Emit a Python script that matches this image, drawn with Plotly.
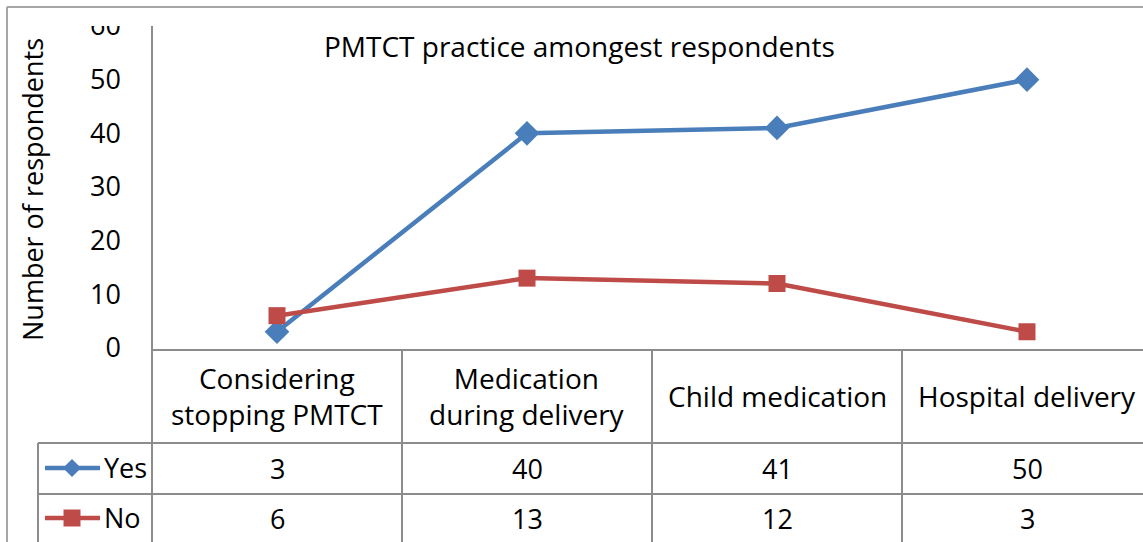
import plotly.graph_objects as go

categories = ["Considering<br>stopping PMTCT", "Medication<br>during delivery", "Child medication", "Hospital delivery"]
yes_values = [3, 40, 41, 50]
no_values = [6, 13, 12, 3]
y_ticks = [0, 10, 20, 30, 40, 50, 60]
title_text = "PMTCT practice amongest respondents"
y_title = "Number of respondents"

W, H = 1143, 542
L, T, B_PX = 152, 26, 350
PW, PH = W - L, B_PX - T
BLUE = "#4A7EBB"
RED = "#BE4B48"
GRID = "#8C8C8C"
FONT = "Open Sans"
FS = 27
FS_CAT = 28

def fx(px):
    return (px - L) / PW

def fy(py):
    return (B_PX - py) / PH

xs = list(range(len(categories)))
fig = go.Figure()
fig.add_trace(go.Scatter(x=xs, y=yes_values, mode="lines+markers", name="Yes",
                         line=dict(color=BLUE, width=4.5),
                         marker=dict(symbol="diamond", size=19, color=BLUE)))
fig.add_trace(go.Scatter(x=xs, y=no_values, mode="lines+markers", name="No",
                         line=dict(color=RED, width=4.5),
                         marker=dict(symbol="square", size=17, color=RED)))

shapes = []
# outer chart border
shapes.append(dict(type="line", xref="paper", yref="paper", x0=fx(7), x1=fx(W), y0=fy(7), y1=fy(7),
                   line=dict(color="#A6A6A6", width=2)))
shapes.append(dict(type="line", xref="paper", yref="paper", x0=fx(7), x1=fx(7), y0=fy(7), y1=fy(H),
                   line=dict(color="#A6A6A6", width=2)))
# clip top of y labels (cover area above plot)
shapes.append(dict(type="rect", xref="paper", yref="paper", x0=fx(9), x1=fx(150), y0=fy(9), y1=fy(T),
                   fillcolor="white", line=dict(width=0), layer="above"))
# y axis line extended down to bottom
shapes.append(dict(type="line", xref="paper", yref="paper", x0=0, x1=0, y0=fy(T), y1=fy(H),
                   line=dict(color=GRID, width=2)))
# x axis line
shapes.append(dict(type="line", xref="paper", yref="paper", x0=0, x1=fx(W), y0=fy(350), y1=fy(350),
                   line=dict(color=GRID, width=2)))
# table horizontal lines
for py in (443, 494):
    shapes.append(dict(type="line", xref="paper", yref="paper", x0=fx(38), x1=fx(W), y0=fy(py), y1=fy(py),
                       line=dict(color=GRID, width=2)))
# legend column left line
shapes.append(dict(type="line", xref="paper", yref="paper", x0=fx(38), x1=fx(38), y0=fy(443), y1=fy(H),
                   line=dict(color=GRID, width=2)))
# column separators
for i in range(1, len(categories)):
    shapes.append(dict(type="line", xref="x", yref="paper", x0=i - 0.5, x1=i - 0.5, y0=fy(350), y1=fy(H),
                       line=dict(color=GRID, width=2)))

# legend keys in table
def key(cy, color, symbol):
    out = [dict(type="line", xref="paper", yref="paper", x0=fx(45), x1=fx(100), y0=fy(cy), y1=fy(cy),
                line=dict(color=color, width=4.5))]
    cx = 72
    if symbol == "diamond":
        r = 9
        pts = [(cx - r, cy), (cx, cy - r), (cx + r, cy), (cx, cy + r)]
    else:
        r = 8.5
        pts = [(cx - r, cy - r), (cx + r, cy - r), (cx + r, cy + r), (cx - r, cy + r)]
    path = "M " + " L ".join(f"{fx(a):.5f},{fy(b):.5f}" for a, b in pts) + " Z"
    out.append(dict(type="path", xref="paper", yref="paper", path=path, fillcolor=color, line=dict(width=0)))
    return out

shapes += key(468, BLUE, "diamond")
shapes += key(518, RED, "square")

annotations = []
annotations.append(dict(text=title_text, xref="paper", yref="paper", x=fx(579), y=fy(46),
                        showarrow=False, font=dict(family=FONT, size=FS_CAT, color="black"),
                        xanchor="center", yanchor="middle"))
annotations.append(dict(text=y_title, xref="paper", yref="paper", x=fx(32), y=fy(190), textangle=-90,
                        showarrow=False, font=dict(family=FONT, size=FS, color="black"),
                        xanchor="center", yanchor="middle"))
for i, c in enumerate(categories):
    annotations.append(dict(text=c, xref="x", yref="paper", x=i, y=fy(396), showarrow=False,
                            font=dict(family=FONT, size=FS_CAT, color="black"),
                            xanchor="center", yanchor="middle", align="center"))
    annotations.append(dict(text=str(yes_values[i]), xref="x", yref="paper", x=i, y=fy(468), showarrow=False,
                            font=dict(family=FONT, size=FS, color="black"), xanchor="center", yanchor="middle"))
    annotations.append(dict(text=str(no_values[i]), xref="x", yref="paper", x=i, y=fy(518), showarrow=False,
                            font=dict(family=FONT, size=FS, color="black"), xanchor="center", yanchor="middle"))
annotations.append(dict(text="Yes", xref="paper", yref="paper", x=fx(102), y=fy(467), showarrow=False,
                        font=dict(family=FONT, size=FS, color="black"), xanchor="left", yanchor="middle"))
annotations.append(dict(text="No", xref="paper", yref="paper", x=fx(102), y=fy(517), showarrow=False,
                        font=dict(family=FONT, size=FS, color="black"), xanchor="left", yanchor="middle"))

fig.update_layout(
    width=W, height=H,
    margin=dict(l=L, r=0, t=T, b=H - B_PX),
    paper_bgcolor="white", plot_bgcolor="white",
    showlegend=False,
    shapes=shapes, annotations=annotations,
    xaxis=dict(range=[-0.5, 3.5 - (L + 4 * 250 - W) / 250], showticklabels=False, showgrid=False,
               zeroline=False, showline=False, ticks=""),
    yaxis=dict(range=[-0.4, 60], tickvals=y_ticks, showgrid=False, zeroline=False, showline=False,
               ticks="", ticklabelstandoff=30,
               tickfont=dict(family=FONT, size=FS, color="black")),
)
fig.write_html("out.html", config={"displayModeBar": False},
               post_script="document.body.style.margin='0';document.body.style.overflow='hidden';")
